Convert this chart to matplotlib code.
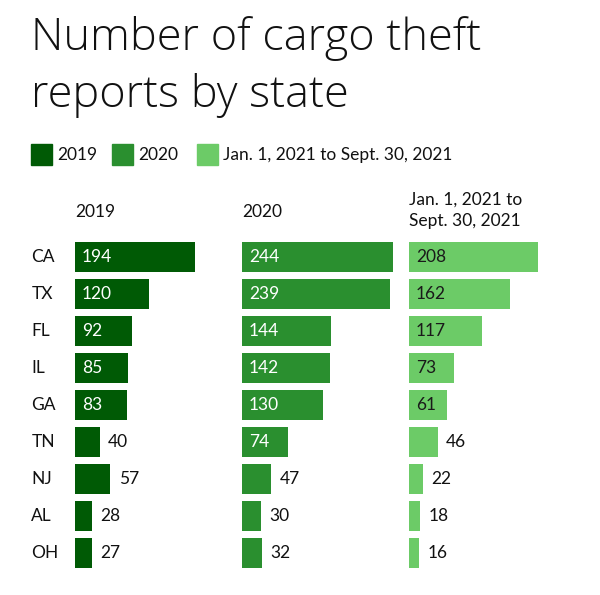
import matplotlib
matplotlib.use("Agg")
import matplotlib.pyplot as plt
from matplotlib.patches import Rectangle

states = ["CA", "TX", "FL", "IL", "GA", "TN", "NJ", "AL", "OH"]
v2019 = [194, 120, 92, 85, 83, 40, 57, 28, 27]
v2020 = [244, 239, 144, 142, 130, 74, 47, 30, 32]
v2021 = [208, 162, 117, 73, 61, 46, 22, 18, 16]
series_names = ["2019", "2020", "Jan. 1, 2021 to Sept. 30, 2021"]
headers = ["2019", "2020", "Jan. 1, 2021 to\nSept. 30, 2021"]
colors = ["#005a05", "#2a8f2f", "#6ccb67"]
text_inside = ["white", "white", "#1a1a1a"]

plt.rcParams['font.family'] = ['Lato', 'DejaVu Sans']

W, H = 600, 595
fig = plt.figure(figsize=(6, 5.95), dpi=100)

def fx(px):
    return px / W

def fy(py):
    return 1 - py / H

for line, base in [("Number of cargo theft", 50), ("reports by state", 107)]:
    fig.text(fx(31), fy(base), line, fontsize=32.5,
             family=['Open Sans', 'DejaVu Sans'], fontweight='light',
             va='baseline', ha='left', color='#111111')

# legend
leg_x = [31, 112, 197]
for lx, c, name in zip(leg_x, colors, series_names):
    fig.patches.append(Rectangle((fx(lx), fy(165)), fx(21), 21 / H, transform=fig.transFigure,
                                 color=c, figure=fig))
    fig.text(fx(lx + 26), fy(155), name, fontsize=12.5, va='center', ha='left', color='#111111')

panel_x = [75, 242, 409]
panel_w = 167
top, bottom = 238.5, 571.5
data = [v2019, v2020, v2021]
n = len(states)
for i, (px, vals, c, hdr, tin) in enumerate(zip(panel_x, data, colors, headers, text_inside)):
    ax = fig.add_axes([fx(px), fy(bottom), fx(panel_w), (bottom - top) / H])
    ax.barh(range(n), vals, height=0.82, color=c)
    ax.set_xlim(0, 269)
    ax.set_ylim(n - 0.5, -0.5)
    ax.axis('off')
    for j, v in enumerate(vals):
        if v >= 60:
            ax.annotate(str(v), (0, j), xytext=(5, 0), textcoords='offset points',
                        va='center', ha='left', fontsize=12.5, color=tin)
        else:
            ax.annotate(str(v), (v, j), xytext=(6, 0), textcoords='offset points',
                        va='center', ha='left', fontsize=12.5, color='#111111')
    if i == 0:
        for j, s in enumerate(states):
            ax.annotate(s, (0, j), xytext=(-31.5, 0), textcoords='offset points',
                        va='center', ha='left', fontsize=12.5, color='#111111')
    if "\n" in hdr:
        fig.text(fx(px), fy(210.5), hdr, fontsize=12.5, va='center', ha='left', color='#111111',
                 linespacing=1.45)
    else:
        fig.text(fx(px), fy(211.5), hdr, fontsize=12.5, va='center', ha='left', color='#111111')

fig.savefig("out.png", dpi=100, facecolor='white')
